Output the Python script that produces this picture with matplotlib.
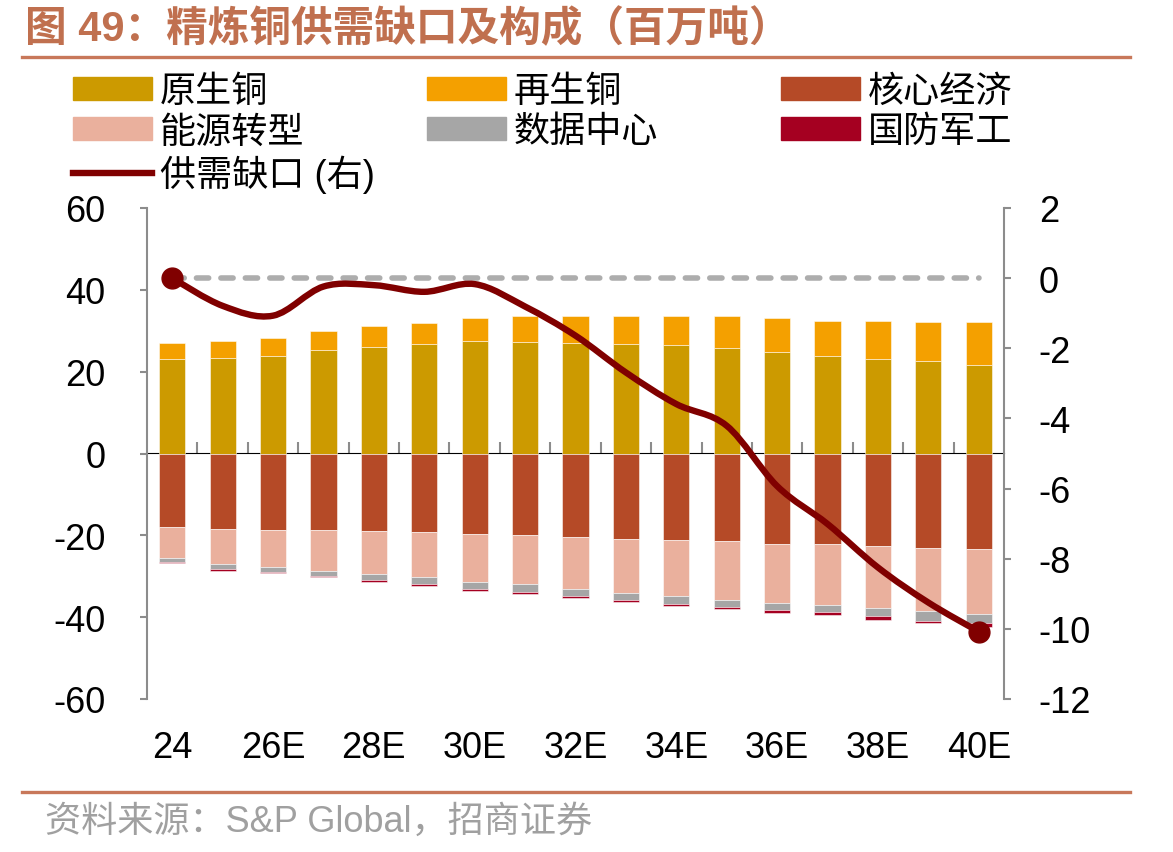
import matplotlib
matplotlib.use("Agg")
import matplotlib.pyplot as plt
from matplotlib.path import Path
from matplotlib.patches import PathPatch, Patch
from matplotlib.lines import Line2D
import numpy as np

plt.rcParams['font.family'] = ['Liberation Sans', 'Noto Sans CJK SC']
plt.rcParams['axes.unicode_minus'] = False

# ---------------- data ----------------
years = ["24", "25E", "26E", "27E", "28E", "29E", "30E", "31E", "32E",
         "33E", "34E", "35E", "36E", "37E", "38E", "39E", "40E"]
primary = [23.0, 23.3, 23.8, 25.2, 26.0, 26.7, 27.5, 27.3, 27.1,
           26.7, 26.4, 25.8, 24.8, 23.8, 23.1, 22.5, 21.6]
recycled = [3.9, 4.3, 4.4, 4.7, 5.1, 5.3, 5.7, 6.2, 6.5,
            6.9, 7.2, 7.8, 8.3, 8.6, 9.3, 9.7, 10.5]
core = [17.9, 18.4, 18.6, 18.6, 18.9, 19.2, 19.6, 19.9, 20.3,
        20.8, 21.1, 21.4, 22.0, 22.0, 22.7, 23.1, 23.3]
energy = [7.6, 8.7, 9.2, 10.0, 10.5, 11.1, 11.7, 12.1, 12.8,
          13.2, 13.7, 14.4, 14.6, 15.0, 15.1, 15.4, 15.9]
datacenter = [0.9, 1.1, 1.2, 1.3, 1.6, 1.6, 1.7, 1.8, 1.7,
              1.8, 1.9, 1.7, 1.6, 1.7, 2.0, 2.4, 2.3]
defense = [0.4, 0.4, 0.3, 0.4, 0.4, 0.6, 0.5, 0.5, 0.5,
           0.5, 0.5, 0.6, 0.7, 0.7, 0.8, 0.6, 0.8]
gap = [0.0, -0.79, -1.07, -0.24, -0.20, -0.39, -0.17, -0.81, -1.64,
       -2.69, -3.59, -4.21, -5.93, -7.01, -8.25, -9.25, -10.08]

labels = ["原生铜", "再生铜", "核心经济", "能源转型", "数据中心", "国防军工", "供需缺口 (右)"]
xtick_show = ["24", "26E", "28E", "30E", "32E", "34E", "36E", "38E", "40E"]

c_primary = "#CC9A00"
c_recycled = "#F4A000"
c_core = "#B54A27"
c_energy = "#EAB09D"
c_data = "#A6A6A6"
c_def = "#A50021"
c_line = "#800000"
c_accent = "#C8785A"
c_axis = "#8C8C8C"

W, H = 1173, 853
fig = plt.figure(figsize=(W / 100, H / 100), dpi=100)
ax = fig.add_axes([147 / W, 1 - 700 / H, (1004 - 147) / W, (700 - 209) / H])
ax2 = ax.twinx()

x = np.arange(len(years))
bw = 0.52
ekw = dict(edgecolor=(1, 1, 1, 0.6), linewidth=0.6, zorder=2)
ax.bar(x, primary, bw, color=c_primary, **ekw)
ax.bar(x, recycled, bw, bottom=primary, color=c_recycled, **ekw)
neg_core = -np.array(core)
ax.bar(x, neg_core, bw, color=c_core, **ekw)
b2 = neg_core - np.array(energy)
ax.bar(x, -np.array(energy), bw, bottom=neg_core, color=c_energy, **ekw)
b3 = b2 - np.array(datacenter)
ax.bar(x, -np.array(datacenter), bw, bottom=b2, color=c_data, **ekw)
ax.bar(x, -np.array(defense), bw, bottom=b3, color=c_def, **ekw)

ax.set_xlim(-0.5, len(years) - 0.5)
ax.set_ylim(-60, 60)
ax.set_yticks(np.arange(-60, 61, 20))
ax2.set_ylim(-12, 2)
ax2.set_yticks(np.arange(-12, 3, 2))

# zero reference dashed line on the right axis
ax2.plot([x[0], x[-1]], [0, 0], color="#ADADAD", lw=4.0,
         dashes=(2.2, 2.2), dash_capstyle="round", zorder=3)

# smooth gap line (Catmull-Rom through the data points)
pts = np.column_stack([x, gap]).astype(float)
verts = [tuple(pts[0])]
codes = [Path.MOVETO]
n = len(pts)
for i in range(n - 1):
    p0 = pts[i - 1] if i > 0 else pts[i]
    p1 = pts[i]
    p2 = pts[i + 1]
    p3 = pts[i + 2] if i + 2 < n else pts[i + 1]
    c1 = p1 + (p2 - p0) / 6.0
    c2 = p2 - (p3 - p1) / 6.0
    verts += [tuple(c1), tuple(c2), tuple(p2)]
    codes += [Path.CURVE4] * 3
ax2.add_patch(PathPatch(Path(verts, codes), fill=False, edgecolor=c_line,
                        lw=4.6, capstyle="round", joinstyle="round", zorder=4))
ax2.plot([x[0], x[-1]], [gap[0], gap[-1]], ls="none", marker="o",
         ms=15, color=c_line, zorder=5)

# spines / ticks
for a in (ax, ax2):
    a.spines["top"].set_visible(False)
    a.spines["bottom"].set_visible(False)
    a.spines["left"].set_color(c_axis)
    a.spines["right"].set_color(c_axis)
    a.spines["left"].set_linewidth(1.5)
    a.spines["right"].set_linewidth(1.5)
ax.spines["right"].set_visible(False)
ax2.spines["left"].set_visible(False)

ax.tick_params(axis="y", direction="out", length=5, width=1.5, color=c_axis,
               labelsize=26, pad=25)
ax2.tick_params(axis="y", direction="out", length=5, width=1.5, color=c_axis,
                labelsize=26, pad=20)

ax.set_xticks(x[::2])
ax.set_xticklabels(xtick_show)
ax.tick_params(axis="x", length=0, labelsize=26, pad=22)

sec = ax.secondary_xaxis(0.5)
sec.set_xticks(np.arange(0.5, len(years) - 1, 1.0))
sec.set_xticklabels([])
sec.tick_params(axis="x", direction="out", length=8, width=1.5, color=c_axis)
sec.spines["bottom"].set_color(c_axis)
sec.spines["bottom"].set_linewidth(2)

# title and rules
fig.text(25 / W, 1 - 30 / H, "图 49：精炼铜供需缺口及构成（百万吨）", fontsize=30,
         fontweight="bold", color="#C0704F", va="center", ha="left")
fig.add_artist(Line2D([22 / W, 1130 / W], [1 - 58 / H] * 2, color=c_accent,
                      lw=2.4, transform=fig.transFigure))
fig.add_artist(Line2D([22 / W, 1130 / W], [1 - 793 / H] * 2, color=c_accent,
                      lw=2.4, transform=fig.transFigure))
fig.text(45 / W, 1 - 822 / H, "资料来源：S&P Global，招商证券", fontsize=26,
         color="#A0A0A0", va="center", ha="left")

# legend (three columns, row-major order)
h_primary = Patch(color=c_primary)
h_recycled = Patch(color=c_recycled)
h_core = Patch(color=c_core)
h_energy = Patch(color=c_energy)
h_data = Patch(color=c_data)
h_def = Patch(color=c_def)
h_line = Line2D([], [], color=c_line, lw=4.6)
cols = [
    ([h_primary, h_energy, h_line], [labels[0], labels[3], labels[6]], 73),
    ([h_recycled, h_data], [labels[1], labels[4]], 427),
    ([h_core, h_def], [labels[2], labels[5]], 781),
]
for hs, ls, xp in cols:
    fig.legend(hs, ls, loc="upper left", bbox_to_anchor=(xp / W, 1 - 75 / H),
               frameon=False, fontsize=26, borderpad=0, borderaxespad=0,
               handlelength=2.2, handleheight=0.6, handletextpad=0.2,
               labelspacing=0.15)

fig.savefig("out.png", dpi=100)
